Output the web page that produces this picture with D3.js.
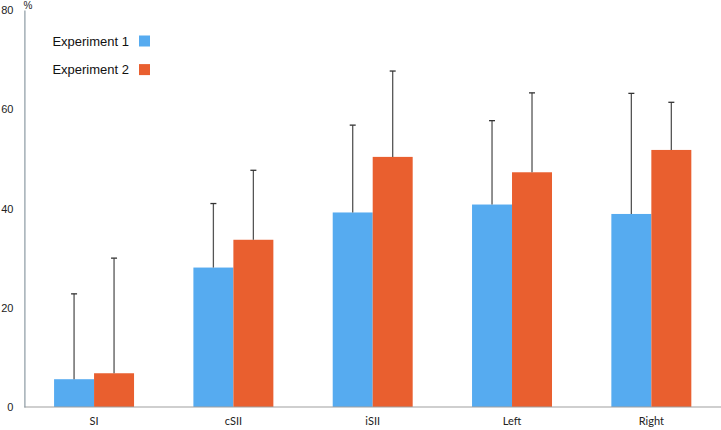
<!DOCTYPE html>
<html>
<head>
<meta charset="utf-8">
<script src="https://cdn.jsdelivr.net/npm/d3@7"></script>
<style>
  html, body { margin: 0; padding: 0; background: #fff; }
  svg { display: block; }
</style>
</head>
<body>
<div id="chart"></div>
<script>
// categories and series
const categories = ['SI', 'cSII', 'iSII', 'Left', 'Right'];
const seriesNames = ['Experiment 1', 'Experiment 2'];
const exp1Means = [5.6, 28.1, 39.2, 40.8, 38.9];
const exp1Err   = [17.2, 12.9, 17.6, 16.9, 24.3];
const exp2Means = [6.8, 33.7, 50.4, 47.3, 51.8];
const exp2Err   = [23.2, 14.0, 17.3, 16.0, 9.6];
const yTicks = [0, 20, 40, 60, 80];

const colors = ['#56abf0', '#e95f2f'];

const width = 721, height = 430;
const margin = { top: 10, right: 0, bottom: 23, left: 24.4 };

const svg = d3.select('#chart').append('svg')
  .attr('width', width)
  .attr('height', height);

const x0 = d3.scaleBand()
  .domain(categories)
  .range([margin.left, width - margin.right])
  .paddingInner(0.426)
  .paddingOuter(0.213);

const x1 = d3.scaleBand()
  .domain(seriesNames)
  .range([0, x0.bandwidth()]);

const y = d3.scaleLinear()
  .domain([0, 80])
  .range([height - margin.bottom, margin.top]);

// build rows from the arrays
const rows = [];
categories.forEach((c, i) => {
  rows.push({ cat: c, s: seriesNames[0], mean: exp1Means[i], err: exp1Err[i], color: colors[0] });
  rows.push({ cat: c, s: seriesNames[1], mean: exp2Means[i], err: exp2Err[i], color: colors[1] });
});

// bars
svg.append('g').selectAll('rect')
  .data(rows)
  .join('rect')
  .attr('x', d => x0(d.cat) + x1(d.s))
  .attr('y', d => y(d.mean))
  .attr('width', x1.bandwidth())
  .attr('height', d => y(0) - y(d.mean))
  .attr('fill', d => d.color);

// upper error bars
const eg = svg.append('g');
eg.selectAll('line.whisker')
  .data(rows)
  .join('line')
  .attr('class', 'whisker')
  .attr('x1', d => x0(d.cat) + x1(d.s) + x1.bandwidth() / 2)
  .attr('x2', d => x0(d.cat) + x1(d.s) + x1.bandwidth() / 2)
  .attr('y1', d => y(d.mean))
  .attr('y2', d => y(d.mean + d.err))
  .attr('stroke', '#555')
  .attr('stroke-width', 1.3);
eg.selectAll('line.cap')
  .data(rows)
  .join('line')
  .attr('class', 'cap')
  .attr('x1', d => x0(d.cat) + x1(d.s) + x1.bandwidth() / 2 - 3)
  .attr('x2', d => x0(d.cat) + x1(d.s) + x1.bandwidth() / 2 + 3)
  .attr('y1', d => y(d.mean + d.err))
  .attr('y2', d => y(d.mean + d.err))
  .attr('stroke', '#333')
  .attr('stroke-width', 1.3);

// x axis
const xAxis = svg.append('g')
  .attr('transform', `translate(0,${y(0)})`)
  .call(d3.axisBottom(x0).tickSize(0).tickPadding(10));
xAxis.select('.domain')
  .attr('d', `M${margin.left},0H${width}`)
  .attr('stroke', '#a0a0a0')
  .attr('stroke-width', 1.2);
xAxis.selectAll('text')
  .attr('font-family', 'Lato, "Open Sans", sans-serif')
  .attr('font-size', 11)
  .attr('fill', '#222');

// y axis
const yAxis = svg.append('g')
  .attr('transform', `translate(${margin.left},0)`)
  .call(d3.axisLeft(y).tickValues(yTicks).tickSize(0).tickPadding(11));
yAxis.select('.domain')
  .attr('stroke', '#8c9aa3')
  .attr('stroke-width', 1.2);
yAxis.selectAll('text')
  .attr('font-family', '"Liberation Sans", Arial, sans-serif')
  .attr('font-size', 11)
  .attr('fill', '#222');

svg.append('text')
  .attr('x', margin.left - 1)
  .attr('y', 9)
  .attr('font-family', '"Liberation Sans", Arial, sans-serif')
  .attr('font-size', 10)
  .attr('fill', '#222')
  .text('%');

// legend
const legend = svg.append('g');
seriesNames.forEach((name, i) => {
  const ly = 41 + i * 28.6;
  legend.append('text')
    .attr('x', 129)
    .attr('y', ly)
    .attr('dy', '0.35em')
    .attr('text-anchor', 'end')
    .attr('font-family', '"Liberation Sans", Arial, sans-serif')
    .attr('font-size', 13)
    .attr('fill', '#111')
    .text(name);
  legend.append('rect')
    .attr('x', 139)
    .attr('y', ly - 5.5)
    .attr('width', 11)
    .attr('height', 11)
    .attr('fill', colors[i]);
});
</script>
</body>
</html>
